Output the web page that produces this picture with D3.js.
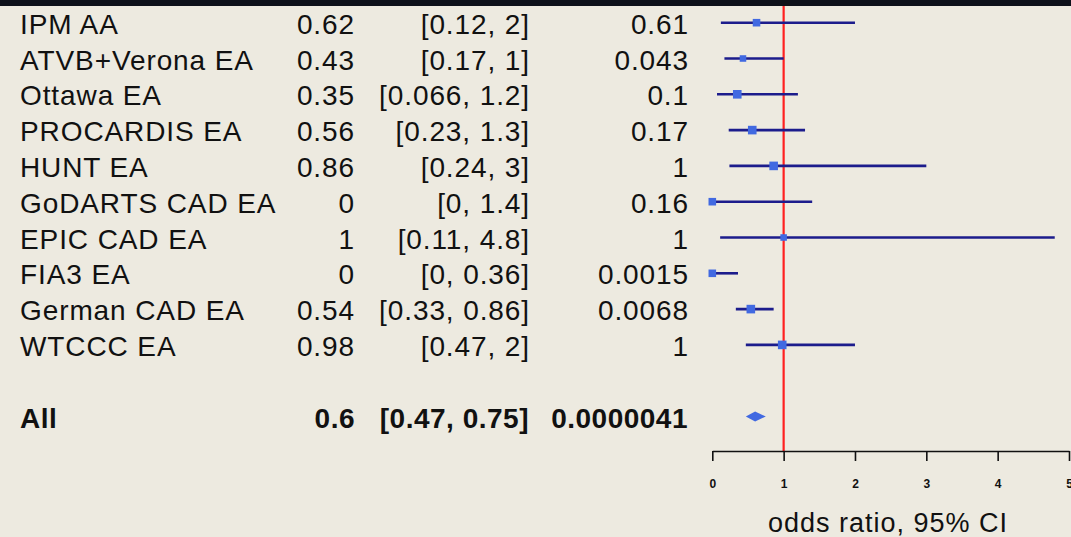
<!DOCTYPE html>
<html>
<head>
<meta charset="utf-8">
<script src="https://cdn.jsdelivr.net/npm/d3@7/dist/d3.min.js"></script>
<style>
  html, body { margin: 0; padding: 0; background: #edeae0; }
  svg { display: block; }
  text { font-family: "Liberation Sans", Arial, Helvetica, sans-serif; fill: #111; }
</style>
</head>
<body>
<svg id="chart" width="1071" height="537"></svg>
<script>
// Per-study odds ratios with 95% confidence intervals
const studies = ["IPM AA", "ATVB+Verona EA", "Ottawa EA", "PROCARDIS EA", "HUNT EA",
                 "GoDARTS CAD EA", "EPIC CAD EA", "FIA3 EA", "German CAD EA", "WTCCC EA"];
const oddsRatio = [0.62, 0.43, 0.35, 0.56, 0.86, 0, 1, 0, 0.54, 0.98];
const ciLow     = [0.12, 0.17, 0.066, 0.23, 0.24, 0, 0.11, 0, 0.33, 0.47];
const ciHigh    = [2, 1, 1.2, 1.3, 3, 1.4, 4.8, 0.36, 0.86, 2];
const pValues   = ["0.61", "0.043", "0.1", "0.17", "1", "0.16", "1", "0.0015", "0.0068", "1"];
const studyWeight = [0.88, 0.76, 1, 1, 1, 0.88, 0.76, 0.88, 1, 1];

// Pooled estimate
const pooledLabel = "All";
const pooledOR = 0.6;
const pooledLow = 0.47;
const pooledHigh = 0.75;
const pooledP = "0.0000041";

const axisTicks = [0, 1, 2, 3, 4, 5];
const axisTitle = "odds ratio, 95% CI";

const svg = d3.select("#chart");
const W = 1071, H = 537;

svg.append("rect").attr("width", W).attr("height", H).attr("fill", "#edeae0");
svg.append("rect").attr("width", W).attr("height", 6).attr("fill", "#0d111a");

const x = d3.scaleLinear().domain([0, 5]).range([712.3, 1069]);
const y = d3.scaleLinear().domain([0, 11]).range([22.7, 416.5]);
const box = d3.scaleLinear().domain([0, 1]).range([0, 8.6]);
const axisY = 451;

const fmt = v => String(v);
const ciText = (lo, hi) => `[${fmt(lo)}, ${fmt(hi)}]`;

const rows = studies.map((s, i) => ({
  name: s, or: oddsRatio[i], lo: ciLow[i], hi: ciHigh[i], p: pValues[i], w: studyWeight[i], i
}));

// Text table
const table = svg.append("g").attr("font-size", 28).attr("letter-spacing", 0.9);
const rowG = table.selectAll("g.row").data(rows).join("g")
  .attr("class", "row")
  .attr("transform", d => `translate(0,${y(d.i) + 11})`);
rowG.append("text").attr("x", 20).text(d => d.name);
rowG.append("text").attr("x", 355).attr("text-anchor", "end").text(d => fmt(d.or));
rowG.append("text").attr("x", 530).attr("text-anchor", "end").text(d => ciText(d.lo, d.hi));
rowG.append("text").attr("x", 689).attr("text-anchor", "end").text(d => d.p);

const pooledG = table.append("g")
  .attr("transform", `translate(0,${y(11) + 11})`)
  .attr("font-weight", "bold")
  .attr("letter-spacing", 0.5);
pooledG.append("text").attr("x", 20).text(pooledLabel);
pooledG.append("text").attr("x", 355).attr("text-anchor", "end").text(fmt(pooledOR));
pooledG.append("text").attr("x", 529).attr("text-anchor", "end").text(ciText(pooledLow, pooledHigh));
pooledG.append("text").attr("x", 688).attr("text-anchor", "end").text(pooledP);

// Reference line at OR = 1
svg.append("line")
  .attr("x1", x(1)).attr("x2", x(1))
  .attr("y1", 6).attr("y2", axisY)
  .attr("stroke", "#ff2020").attr("stroke-width", 2.2);

// Confidence intervals and point estimates
const marks = svg.append("g");
marks.selectAll("line.ci").data(rows).join("line")
  .attr("class", "ci")
  .attr("x1", d => x(d.lo)).attr("x2", d => x(d.hi))
  .attr("y1", d => y(d.i)).attr("y2", d => y(d.i))
  .attr("stroke", "#1c1c8c").attr("stroke-width", 2.6);
marks.selectAll("rect.pt").data(rows).join("rect")
  .attr("class", "pt")
  .attr("x", d => x(d.or) - box(d.w) / 2)
  .attr("y", d => y(d.i) - box(d.w) / 2)
  .attr("width", d => box(d.w))
  .attr("height", d => box(d.w))
  .attr("fill", "#4169e1");

// Pooled diamond
const yc = y(11);
marks.append("path")
  .attr("d", d3.line()([
    [x(pooledLow), yc], [x(pooledOR), yc - 5], [x(pooledHigh), yc], [x(pooledOR), yc + 5]
  ]) + "Z")
  .attr("fill", "#4169e1");

// Axis
const axis = d3.axisBottom(x).tickValues(axisTicks).tickFormat(d3.format("d"))
  .tickSize(10).tickSizeOuter(0).tickPadding(18);
const ax = svg.append("g").attr("transform", `translate(0,${axisY})`).call(axis);
ax.select(".domain").attr("stroke", "#111").attr("stroke-width", 1.6);
ax.selectAll(".tick line").attr("stroke", "#111").attr("stroke-width", 1.6);
ax.selectAll(".tick text")
  .attr("font-family", "'Liberation Sans', Arial, sans-serif")
  .attr("font-size", 12).attr("font-weight", "bold").attr("fill", "#222");

svg.append("text")
  .attr("x", 888).attr("y", 532)
  .attr("text-anchor", "middle")
  .attr("font-size", 27)
  .attr("letter-spacing", 1)
  .text(axisTitle);
</script>
</body>
</html>
